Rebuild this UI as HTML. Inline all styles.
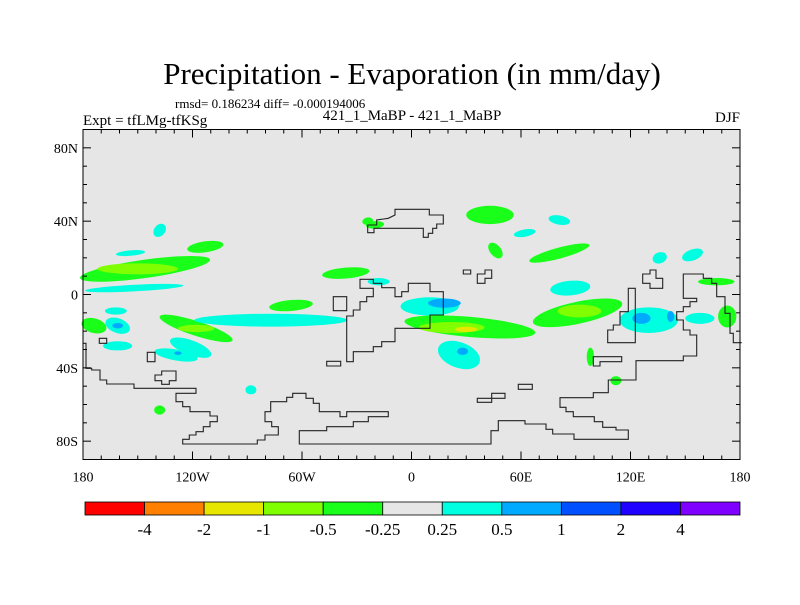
<!DOCTYPE html>
<html><head><meta charset="utf-8"><style>
body{margin:0;background:#fff;width:800px;height:600px;overflow:hidden}
svg text{font-family:"Liberation Serif",serif;fill:#000}
</style></head><body>
<svg id="chart" width="800" height="600" viewBox="0 0 800 600" xmlns="http://www.w3.org/2000/svg">
<text x="412" y="84" font-size="31" text-anchor="middle">Precipitation - Evaporation (in mm/day)</text>
<text x="175" y="108" font-size="13">rmsd= 0.186234 diff= -0.000194006</text>
<text x="83" y="125" font-size="15">Expt = tfLMg-tfKSg</text>
<text x="412" y="120" font-size="15" text-anchor="middle">421_1_MaBP - 421_1_MaBP</text>
<text x="740" y="122" font-size="15" text-anchor="end">DJF</text>
<rect x="83" y="129.5" width="657" height="330" fill="#e6e6e6"/>
<g id="blobs"></g>
<g id="coast"></g>
<g id="axes"></g>
<g id="cbar"></g>
</svg>
<script>
// color levels
const levelLabels=["-4","-2","-1","-0.5","-0.25","0.25","0.5","1","2","4"];
const levelColors=["#ff0000","#ff8000","#e6e600","#80ff00","#1aff1a","#e6e6e6","#00ffe0","#00aaff","#0050ff","#2000ff","#8000ff"];
// blobs: lon, lat, half-lon, half-lat, tilt(deg), color index
const blobLon=[-146,-152,-113,-138,-154,-174,-161,-162,-118,-121,-161,-129,-77,-66,-36,-18,-20,10,32,91,26,43,81,62,46,81,87,130,158,136,154,167,173,98,112,-88,-138,-24];
const blobLat=[14,3.5,26,35,22.6,-17,-17,-9,-18.5,-29,-28,-33,-14,-6,11.7,7,38,-6.5,-17.7,-10,-33,43.4,40.6,33.5,24,22.6,3.5,-14,-13,20,21.6,7,-12,-34,-47,-52,-63,40];
const blobHW=[36,27,10,3,8,7,7,6,21,12,8,12,42,12,13,6,5,16,36,25,12,13,6,6,3,17,11,16,8,4,6,10,5,2,3,3,3,3];
const blobHH=[5,1.8,3,4,1.5,4,4,2,4,4,2.5,3,3.5,3,3,2,2,5,5.5,6,7,5,2.5,2,5,3,4,7,3,3,3,2,6,5,2.5,2.5,2.5,2];
const blobTilt=[8,3,8,-40,5,-15,-20,0,-18,-20,0,-10,0,5,5,0,5,0,-5,12,-20,0,-10,10,40,15,5,0,0,20,20,0,0,0,0,0,0,10];
const blobLvl=[4,6,4,6,6,4,6,6,4,6,6,6,6,4,4,6,4,6,4,4,6,4,6,6,4,4,6,6,6,6,6,4,4,4,4,6,4,4];
// inner cores
const coreLon=[-150,-161,-118,18,22,30,92,28,126,142,-128];
const coreLat=[14,-17,-18.5,-4.7,-18,-19,-9,-31,-13,-12,-32];
const coreHW=[22,3,10,9,18,6,12,3,5,2,2];
const coreHH=[3,1.5,2,2.5,3,1.5,3.5,2,3,3,1];
const coreLvl=[3,7,3,7,3,2,3,7,7,7,7];
const NS="http://www.w3.org/2000/svg";
const X0=83,X1=740,Y0=129.5,Y1=459.5;
const xs=lon=>X0+(lon+180)/360*(X1-X0);
const ys=lat=>Y0+(90-lat)/180*(Y1-Y0);
function mk(t,a,p){const e=document.createElementNS(NS,t);for(const k in a)e.setAttribute(k,a[k]);p.appendChild(e);return e;}
const gb=document.getElementById('blobs');
function ell(lon,lat,hw,hh,tilt,lvl,name){
 const cx=xs(lon),cy=ys(lat),rx=xs(lon+hw)-cx,ry=ys(lat-hh)-cy;
 const e=mk('ellipse',{cx:cx,cy:cy,rx:rx,ry:ry,fill:levelColors[lvl],transform:`rotate(${-tilt} ${cx} ${cy})`},gb);
 
 
}
blobLon.forEach((v,i)=>ell(v,blobLat[i],blobHW[i],blobHH[i],blobTilt[i],blobLvl[i],'contour-region'));
coreLon.forEach((v,i)=>ell(v,coreLat[i],coreHW[i],coreHH[i],0,coreLvl[i],'contour-core'));
// coastlines in reference-grid coords (zoom space), converted
const gc=document.getElementById('coast');
const Z1=p=>p.map((v,i)=>i%2?120+v/3:70+v/3);
const Z2=p=>p.map((v,i)=>i%2?120+v/3:400+v/3);
function line(pts,closed){
 let s='';for(let i=0;i<pts.length;i+=2)s+=(i?'L':'M')+pts[i].toFixed(1)+' '+pts[i+1].toFixed(1);
 if(closed)s+='Z';
 const e=mk('path',{d:s,fill:'none',stroke:'#222','stroke-width':1.1},gc);
 
 
}
line(Z1([38,670,48,670,48,745,65,745,65,750,90,750,90,780,110,780,110,792,192,792,192,805,378,805,378,820,318,820,318,845,338,845,338,860,360,860,360,875,420,875,420,888,442,888,442,905,420,905,420,920,400,920,400,935,378,935,378,945,358,945,358,958,338,958,338,972,562,972,562,960,585,960,585,945,625,945,625,920,605,920,605,905,585,905,585,875,602,875,602,845,650,845,650,832,668,832,668,820,708,820,708,835,730,835,730,850,748,850,748,875,810,875,810,890,830,890,830,875,955,875,955,890,895,890,895,905,850,905,850,920,770,920,770,932,688,932,688,972,1019,972]),false);
line(Z2([0,972,273,972,273,932,295,932,295,902,375,902,375,912,438,912,438,928,458,928,458,942,522,942,522,958,685,958,685,930,648,930,648,922,608,922,608,905,583,905,583,890,520,890,520,875,498,875,498,862,480,862,480,833,580,833,580,818,625,818,625,780,708,780,708,722,850,722,850,708,890,708,890,645,870,645,870,630,850,630,850,600,830,600,830,575,850,575,850,560,870,560,870,545,890,545,890,535,850,535,850,462,910,462,910,475,935,475,935,490,950,490,950,530,975,530,975,580,990,580,990,640,1000,640,1000,668,1025,668]),false);
line(Z1([870,478,910,478,910,490,935,490,935,503,975,503,975,530,995,530,995,515,1015,515,1015,490,1080,490,1080,515,1120,515,1120,585,1080,585,1080,625,975,625,975,665,935,665,935,680,910,680,910,695,850,695,850,725,830,725,830,588,850,588,850,570,870,570,870,545,890,545,890,530,910,530,910,505,870,505]),true);
line(Z1([893,315,920,315,920,300,955,295,975,285,975,268,1078,268,1078,285,1120,285,1120,312,1100,312,1100,325,1088,325,1088,340,1075,340,1075,352,1060,352,1060,325,912,325,912,338,893,338]),true);
line(Z1([790,530,830,530,830,572,790,572]),true);
line(Z1([232,697,255,697,255,725,232,725]),true);
line(Z1([88,655,110,655,110,670,88,670]),true);
line(Z1([770,724,812,724,812,738,770,738]),true);
line(Z1([255,765,275,765,275,753,318,753,318,782,298,782,298,793,275,793,275,782,255,782]),true);
line(Z2([190,450,212,450,212,462,190,462]),true);
line(Z2([232,462,255,462,255,450,275,450,275,475,255,475,255,490,232,490]),true);
line(Z2([355,793,397,793,397,808,355,808]),true);
line(Z2([232,835,275,835,275,820,315,820,315,835,275,835,275,847,232,847]),true);
line(Z2([580,710,665,710,665,725,600,725,600,738,580,738]),true);
line(Z2([685,505,706,505,706,668,623,668,623,630,640,630,640,615,660,615,660,575,685,575]),true);
line(Z2([728,462,750,462,750,450,768,450,768,475,788,475,788,505,750,505,750,490,728,490]),true);
// axes
const ga=document.getElementById('axes');
mk('rect',{x:X0,y:Y0,width:X1-X0,height:Y1-Y0,fill:'none',stroke:'#000','stroke-width':1},ga);
const latTicks=[80,40,0,-40,-80];const latLabels=["80N","40N","0","40S","80S"];
const lonTicks=[-180,-120,-60,0,60,120,180];const lonLabels=["180","120W","60W","0","60E","120E","180"];
for(let la=-80;la<=80;la+=10){const y=ys(la),L=la%40===0?8:4;
 mk('line',{x1:X0,y1:y,x2:X0+L,y2:y,stroke:'#000'},ga);mk('line',{x1:X1,y1:y,x2:X1-L,y2:y,stroke:'#000'},ga);}
for(let lo=-170;lo<=170;lo+=10){const x=xs(lo),L=lo%60===0?8:4;
 mk('line',{x1:x,y1:Y0,x2:x,y2:Y0+L,stroke:'#000'},ga);mk('line',{x1:x,y1:Y1,x2:x,y2:Y1-L,stroke:'#000'},ga);}
latTicks.forEach((la,i)=>{const t=mk('text',{x:X0-5,y:ys(la)+5,'font-size':14,'text-anchor':'end'},ga);t.textContent=latLabels[i];
 
 });
lonTicks.forEach((lo,i)=>{const t=mk('text',{x:xs(lo),y:Y1+22,'font-size':14,'text-anchor':'middle'},ga);t.textContent=lonLabels[i];
 
 });
// colorbar
const gcb=document.getElementById('cbar');const CX0=85,CX1=740,CY=502,CH=13;const bw=(CX1-CX0)/levelColors.length;
levelColors.forEach((c,i)=>{const r=mk('rect',{x:CX0+i*bw,y:CY,width:bw,height:CH,fill:c,stroke:'#000','stroke-width':0.8},gcb);
 
 });
levelLabels.forEach((l,i)=>{const t=mk('text',{x:CX0+(i+1)*bw,y:535,'font-size':17,'text-anchor':'middle'},gcb);t.textContent=l;
 
 });
</script>
</body></html>
